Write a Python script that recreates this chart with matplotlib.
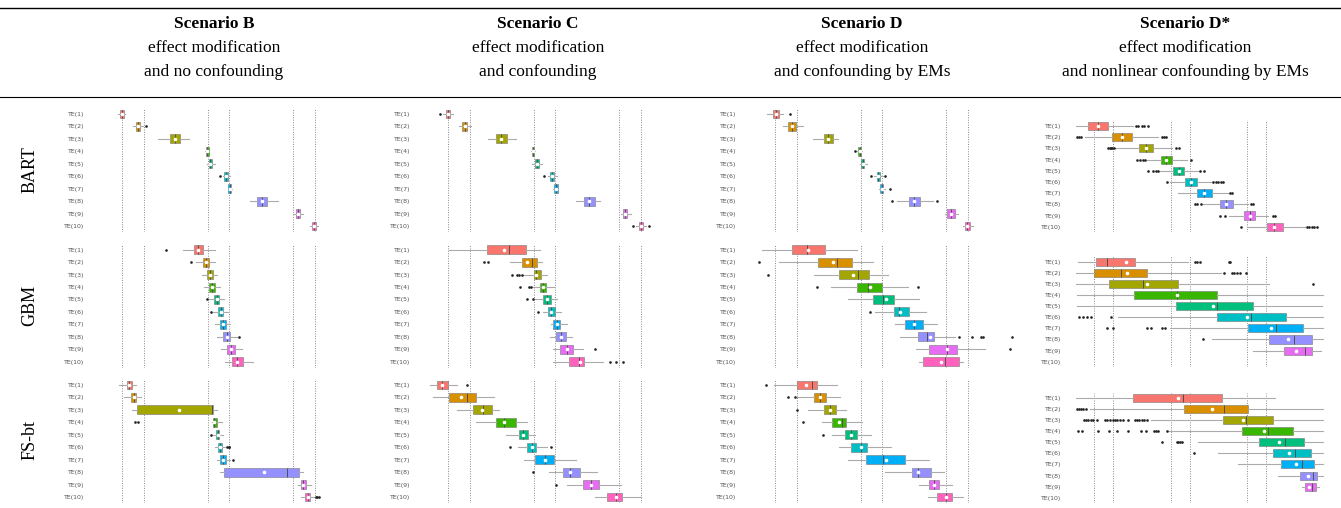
import numpy as np
import matplotlib.pyplot as plt
from matplotlib.lines import Line2D

W, H = 1341, 508

te_labels = [f"TE({i})" for i in range(1, 11)]
colors = ["#F8766D", "#D89000", "#A3A500", "#39B600", "#00BF7D",
          "#00BFC4", "#00B0F6", "#9590FF", "#E76BF3", "#FF62BC"]
scenario_titles = ["Scenario B", "Scenario C", "Scenario D", "Scenario D*"]
scenario_sub1 = ["effect modification"] * 4
scenario_sub2 = ["and no confounding", "and confounding",
                 "and confounding by EMs", "and nonlinear confounding by EMs"]
methods = ["BART", "GBM", "FS-bt"]

# reference lines (true effects) per scenario column
truth_bcd = [0, 0.98, 3.89, 4.88, 7.79, 8.77]
truth_dstar = [0, 0.98, 3.99, 4.99, 7.94, 8.93]

# each row: (whislo, q1, median, q3, whishi, mean, fliers)
bart_b = [
    (-0.17, -0.09, 0.00, 0.09, 0.15, 0.00, []),
    (0.48, 0.64, 0.73, 0.82, 0.94, 0.73, [1.08]),
    (1.62, 2.18, 2.41, 2.64, 3.06, 2.41, []),
    (3.79, 3.82, 3.88, 3.94, 3.97, 3.88, []),
    (3.88, 3.94, 4.02, 4.09, 4.21, 4.02, []),
    (4.58, 4.65, 4.73, 4.80, 4.91, 4.73, [4.47]),
    (4.80, 4.83, 4.89, 4.95, 4.98, 4.89, []),
    (5.82, 6.15, 6.38, 6.60, 7.10, 6.38, []),
    (7.76, 7.91, 8.00, 8.09, 8.21, 8.00, []),
    (8.53, 8.62, 8.71, 8.80, 8.92, 8.71, []),
]
bart_c = [
    (-0.21, -0.09, 0.00, 0.09, 0.21, 0.00, [-0.36]),
    (0.52, 0.65, 0.76, 0.86, 1.03, 0.76, []),
    (1.80, 2.18, 2.42, 2.67, 3.09, 2.42, []),
    (3.76, 3.80, 3.86, 3.92, 3.95, 3.86, []),
    (3.80, 3.95, 4.05, 4.14, 4.29, 4.05, []),
    (4.53, 4.65, 4.74, 4.83, 4.94, 4.74, [4.38]),
    (4.79, 4.83, 4.90, 4.98, 5.02, 4.90, []),
    (5.82, 6.18, 6.43, 6.68, 6.91, 6.43, []),
    (7.85, 7.94, 8.03, 8.12, 8.30, 8.03, []),
    (8.55, 8.68, 8.77, 8.86, 8.98, 8.77, [8.42, 9.15]),
]
bart_d = [
    (-0.38, -0.11, 0.03, 0.17, 0.35, 0.03, [0.68]),
    (0.35, 0.61, 0.77, 0.94, 1.29, 0.77, []),
    (1.74, 2.23, 2.42, 2.62, 2.88, 2.42, []),
    (3.74, 3.79, 3.85, 3.91, 3.95, 3.85, [3.65]),
    (3.86, 3.91, 3.98, 4.06, 4.17, 3.98, []),
    (4.50, 4.62, 4.70, 4.79, 4.92, 4.70, [4.38, 5.02]),
    (4.74, 4.79, 4.85, 4.92, 5.00, 4.85, [5.23]),
    (5.53, 6.08, 6.33, 6.59, 7.20, 6.33, [5.30, 7.35]),
    (7.73, 7.80, 7.98, 8.17, 8.33, 7.98, []),
    (8.56, 8.64, 8.74, 8.85, 9.02, 8.74, []),
]
bart_dstar = [
    (-0.95, -0.33, 0.20, 0.71, 2.04, 0.20, [2.18, 2.30, 2.47, 2.59, 2.78]),
    (-0.47, 0.95, 1.45, 1.95, 3.33, 1.45, [-0.90, -0.76, -0.69, 3.51, 3.63, 3.73]),
    (1.09, 2.31, 2.69, 3.07, 4.02, 2.69, [0.74, 0.81, 0.88, 0.95, 1.02, 4.25, 4.42]),
    (2.73, 3.47, 3.75, 4.02, 4.80, 3.75, [2.25, 2.38, 2.52, 2.64, 5.01]),
    (3.42, 4.11, 4.40, 4.68, 5.41, 4.40, [2.82, 3.07, 3.21, 3.33, 5.49, 5.70]),
    (3.94, 4.73, 5.00, 5.32, 6.10, 5.00, [3.77, 6.18, 6.32, 6.44, 6.56, 6.70]),
    (4.37, 5.32, 5.70, 6.10, 6.98, 5.70, [7.06, 7.14]),
    (5.63, 6.53, 6.86, 7.18, 7.98, 6.86, [5.23, 5.35, 5.53, 8.15, 8.26]),
    (7.00, 7.77, 8.07, 8.36, 9.00, 8.07, [6.53, 6.80, 9.26, 9.36]),
    (7.91, 8.98, 9.35, 9.81, 10.93, 9.35, [7.60, 11.02, 11.16, 11.28, 11.40, 11.54]),
]
gbm_b = [
    (2.79, 3.27, 3.45, 3.70, 4.23, 3.47, [1.98]),
    (3.36, 3.70, 3.82, 3.97, 4.23, 3.82, [3.15]),
    (3.62, 3.88, 4.00, 4.15, 4.30, 4.00, []),
    (3.73, 3.97, 4.10, 4.24, 4.45, 4.10, []),
    (3.97, 4.18, 4.30, 4.42, 4.64, 4.30, [3.88]),
    (4.15, 4.35, 4.48, 4.61, 4.83, 4.48, [4.06]),
    (4.24, 4.45, 4.59, 4.73, 4.91, 4.59, []),
    (4.30, 4.61, 4.76, 4.91, 5.21, 4.76, [5.30]),
    (4.48, 4.76, 4.95, 5.14, 5.44, 4.95, []),
    (4.68, 4.98, 5.24, 5.48, 5.94, 5.24, []),
]
gbm_c = [
    (0.05, 1.76, 2.79, 3.53, 4.18, 2.56, []),
    (2.82, 3.38, 3.80, 4.03, 4.29, 3.60, [1.65, 1.80]),
    (3.42, 3.89, 4.00, 4.21, 4.48, 4.00, [2.89, 3.12, 3.24, 3.36]),
    (3.88, 4.18, 4.30, 4.45, 4.83, 4.30, [3.29, 3.67, 3.77]),
    (3.95, 4.33, 4.50, 4.67, 4.94, 4.50, [3.58, 3.86]),
    (4.33, 4.53, 4.70, 4.86, 5.12, 4.70, [4.08]),
    (4.67, 4.79, 4.94, 5.11, 5.39, 4.94, []),
    (4.64, 4.91, 5.12, 5.35, 5.62, 5.12, []),
    (4.79, 5.09, 5.39, 5.70, 6.15, 5.39, [6.68]),
    (4.79, 5.50, 5.97, 6.20, 7.06, 6.00, [7.36, 7.64, 7.97]),
]
gbm_d = [
    (-0.61, 0.76, 1.44, 2.29, 3.74, 1.52, []),
    (0.20, 1.97, 2.80, 3.50, 4.44, 2.62, [-0.73]),
    (1.79, 2.92, 3.79, 4.27, 5.12, 3.53, [-0.33]),
    (2.55, 3.74, 4.24, 4.85, 6.06, 4.30, [1.92, 6.48]),
    (3.33, 4.47, 4.92, 5.41, 6.55, 5.03, []),
    (4.55, 5.41, 5.64, 6.08, 6.85, 5.68, [4.32]),
    (5.45, 5.91, 6.33, 6.71, 7.38, 6.33, []),
    (5.68, 6.52, 6.89, 7.24, 8.18, 7.05, [8.38, 8.94, 9.36, 9.47, 10.76]),
    (6.39, 6.98, 7.80, 8.29, 9.55, 7.80, [10.68]),
    (6.56, 6.74, 7.73, 8.38, 8.53, 7.53, []),
]
gbm_dstar = [
    (-0.81, 0.10, 0.66, 2.12, 4.89, 1.64, [5.22, 5.35, 5.49, 6.98, 7.05]),
    (-0.93, 0.02, 1.38, 2.73, 6.56, 1.69, [6.75, 7.13, 7.27, 7.43, 7.56, 7.88]),
    (-0.93, 0.79, 2.52, 4.34, 9.08, 2.73, [11.36]),
    (-0.90, 2.09, 4.28, 6.39, 11.85, 4.28, []),
    (-0.90, 4.23, 6.36, 8.26, 11.80, 6.15, []),
    (1.26, 6.36, 8.12, 9.93, 11.85, 7.94, [-0.79, -0.59, -0.38, -0.17, 0.88]),
    (3.94, 8.00, 9.43, 10.81, 11.85, 9.15, [0.69, 1.00, 2.76, 2.94, 3.51, 3.68]),
    (6.10, 9.08, 10.38, 11.28, 11.85, 10.07, [5.66]),
    (8.22, 9.84, 10.93, 11.28, 11.74, 10.45, []),
    None,
]
fs_b = [
    (-0.12, 0.21, 0.33, 0.44, 0.64, 0.33, []),
    (0.09, 0.41, 0.53, 0.64, 0.85, 0.53, []),
    (0.44, 0.70, 4.10, 4.15, 4.30, 2.61, []),
    (4.09, 4.12, 4.20, 4.33, 4.53, 4.20, [0.59, 0.74]),
    (4.15, 4.26, 4.35, 4.42, 4.58, 4.35, [4.06]),
    (4.23, 4.35, 4.44, 4.53, 4.68, 4.44, [4.76, 4.85, 4.88]),
    (4.30, 4.45, 4.60, 4.73, 4.91, 4.60, [5.06]),
    (4.45, 4.65, 7.52, 8.06, 8.24, 6.45, []),
    (8.02, 8.12, 8.24, 8.36, 8.58, 8.24, []),
    (8.12, 8.32, 8.44, 8.55, 8.77, 8.44, [8.82, 8.88, 8.94]),
]
fs_c = [
    (-0.82, -0.48, -0.27, -0.02, 0.39, -0.27, [0.88]),
    (-0.67, 0.05, 0.85, 1.27, 2.09, 0.59, []),
    (0.39, 1.15, 1.61, 1.98, 2.33, 1.53, []),
    (1.26, 2.17, 2.56, 3.09, 3.58, 2.56, []),
    (2.64, 3.24, 3.42, 3.65, 3.95, 3.42, []),
    (3.20, 3.58, 3.80, 4.00, 4.50, 3.80, [2.82, 4.70]),
    (3.45, 3.97, 4.41, 4.83, 5.82, 4.41, []),
    (4.61, 5.21, 5.55, 6.00, 6.79, 5.55, [3.88]),
    (5.39, 6.15, 6.48, 6.86, 7.85, 6.48, [4.91]),
    (6.68, 7.21, 7.64, 7.91, 8.76, 7.64, []),
]
fs_d = [
    (-0.05, 0.98, 1.70, 1.89, 2.80, 1.41, [-0.41]),
    (0.98, 1.76, 2.05, 2.32, 2.95, 2.05, [0.61, 0.91]),
    (1.52, 2.24, 2.50, 2.77, 3.23, 2.50, [0.98]),
    (2.12, 2.61, 3.03, 3.23, 3.94, 2.92, [1.29]),
    (2.58, 3.18, 3.44, 3.74, 4.36, 3.44, [2.17]),
    (2.92, 3.45, 3.89, 4.20, 5.26, 3.89, []),
    (3.33, 4.14, 4.89, 5.91, 7.02, 5.03, []),
    (5.00, 6.24, 6.52, 7.11, 7.68, 6.52, []),
    (6.53, 6.98, 7.24, 7.47, 8.03, 7.24, []),
    (6.95, 7.38, 7.76, 8.06, 8.56, 7.76, []),
]
fs_dstar = [
    (-0.93, 2.04, 4.63, 6.63, 9.38, 4.34, []),
    (-0.21, 4.66, 6.75, 7.96, 11.85, 6.10, [-0.90, -0.80, -0.69, -0.55, -0.40]),
    (2.96, 6.70, 7.90, 9.29, 11.85, 7.74,
     [-0.52, -0.42, -0.29, -0.16, -0.03, 0.14, 0.57, 0.69, 0.83, 0.97, 1.09,
      1.21, 1.35, 1.49, 1.78, 2.12, 2.21, 2.35, 2.47, 2.59, 2.73]),
    (3.90, 7.69, 9.00, 10.29, 11.85, 8.81,
     [-0.85, -0.60, 0.22, 0.79, 1.21, 1.78, 2.43, 2.69, 3.11, 3.21, 3.33, 3.77]),
    (5.41, 8.57, 9.90, 10.88, 11.85, 9.60, [3.52, 4.28, 4.37, 4.46, 4.55]),
    (6.44, 9.29, 10.41, 11.23, 11.85, 10.12, [5.18]),
    (7.48, 9.71, 10.76, 11.40, 11.85, 10.45, []),
    (9.55, 10.67, 11.33, 11.57, 11.85, 11.07, []),
    (10.76, 10.95, 11.28, 11.50, 11.68, 11.16, []),
    None,
]

panels = [[bart_b, bart_c, bart_d, bart_dstar],
          [gbm_b, gbm_c, gbm_d, gbm_dstar],
          [fs_b, fs_c, fs_d, fs_dstar]]
truths = [truth_bcd, truth_bcd, truth_bcd, truth_dstar]

# layout in pixels: (left, right, x of zero line, px per unit)
col_geom = [(87, 330, 122, 22.0), (413, 655, 448, 22.0),
            (739, 1015, 775, 22.0), (1064, 1327, 1094, 19.3)]
row_geom_abc = [(107.8, 232.2), (243.5, 367.9), (378.8, 503.2)]
row_geom_dstar = [(120.4, 232.3), (256.1, 367.3), (392.5, 503.2)]

fig = plt.figure(figsize=(W / 100, H / 100), dpi=100)
serif = "Liberation Serif"

for r in range(3):
    for c in range(4):
        left, right, x0, scale = col_geom[c]
        top, bottom = (row_geom_dstar if c == 3 else row_geom_abc)[r]
        ax = fig.add_axes([left / W, 1 - bottom / H, (right - left) / W, (bottom - top) / H])
        ax.set_xlim((left - x0) / scale, (right - x0) / scale)
        ax.set_ylim(10.5, 0.5)
        for t in truths[c]:
            ax.axvline(t, color="#8a8a8a", lw=0.7, ls=(0, (1, 1.5)), zorder=0)

        stats, pos, cols = [], [], []
        for i, row in enumerate(panels[r][c]):
            if row is None:
                continue
            wl, q1, med, q3, wh, mean, fl = row
            stats.append(dict(whislo=wl, q1=q1, med=med, q3=q3, whishi=wh,
                              mean=mean, fliers=fl))
            pos.append(i + 1)
            cols.append(colors[i])
        bp = ax.bxp(stats, positions=pos, widths=0.72, orientation="horizontal",
                    patch_artist=True, showcaps=False, showmeans=True,
                    boxprops=dict(edgecolor="#777777", linewidth=0.4),
                    whiskerprops=dict(color="#ababab", linewidth=0.8),
                    medianprops=dict(color="#505050", linewidth=0.7),
                    meanprops=dict(marker="o", markerfacecolor="white",
                                   markeredgecolor="white", markersize=1.6),
                    flierprops=dict(marker="o", markerfacecolor="#222222",
                                    markeredgecolor="none", markersize=1.9))
        for patch, col in zip(bp["boxes"], cols):
            patch.set_facecolor(col)

        ax.set_yticks(range(1, 11))
        ax.set_yticklabels(te_labels)
        ax.set_xticks([])
        ax.tick_params(axis="y", length=0, pad=2, labelsize=4.5, labelcolor="#555555")
        for s in ax.spines.values():
            s.set_visible(False)
        ax.patch.set_alpha(0)

# header
centers = [214, 538, 862, 1185]
for c in range(4):
    fig.text(centers[c] / W, 1 - 24 / H, scenario_titles[c], ha="center", va="center",
             fontsize=12.5, fontweight="bold", family=serif)
    fig.text(centers[c] / W, 1 - 48 / H, scenario_sub1[c], ha="center", va="center",
             fontsize=12.5, family=serif)
    fig.text(centers[c] / W, 1 - 72 / H, scenario_sub2[c], ha="center", va="center",
             fontsize=12.5, family=serif)

row_centers = [170, 305, 440]
for r in range(3):
    fig.text(30 / W, 1 - row_centers[r] / H, methods[r], rotation=90, ha="center",
             va="center", fontsize=13, family=serif)

fig.add_artist(Line2D([0, 1], [1 - 8 / H, 1 - 8 / H], color="black", lw=1.0))
fig.add_artist(Line2D([0, 1], [1 - 97 / H, 1 - 97 / H], color="black", lw=0.8))

fig.savefig("out.png", dpi=100)
